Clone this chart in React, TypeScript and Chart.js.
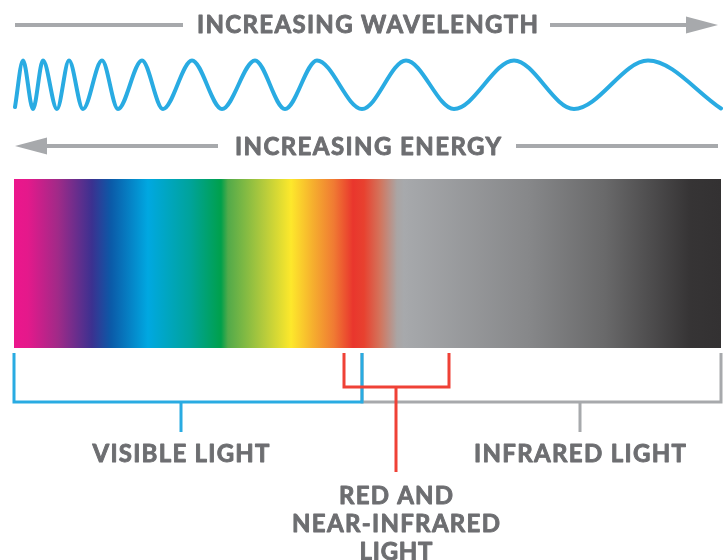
import React, { useEffect, useRef } from "react";
import { Chart, registerables } from "chart.js";

Chart.register(...registerables);

// ---------------- data ----------------
const headingWavelength = "INCREASING WAVELENGTH";
const headingEnergy = "INCREASING ENERGY";

// crests and troughs of the wave, along the horizontal position axis (0–723)
const waveExtremaX = [15, 23, 33, 43, 57, 69, 83, 102, 118, 142, 163, 192, 222, 255, 285, 317, 362, 406, 454, 514, 574, 648, 721];
// normalised amplitude (+1 crest, -1 trough)
const waveExtremaY = [-0.92, 1, -1, 1, -1, 1, -1, 1, -1, 1, -1, 1, -1, 1, -1, 1, -1, 1, -1, 1, -1, 1, -0.98];

// spectrum extent along the position axis
const spectrumFrom = 14;
const spectrumTo = 721;

// labelled bands
const bandNames = ["VISIBLE LIGHT", "RED AND|NEAR-INFRARED|LIGHT", "INFRARED LIGHT"];
const bandFrom = [14, 344, 362];
const bandTo = [362, 449, 721];
const bandMarker = [181, 396, 580];

// ---------------- styles / layout ----------------
const W = 723;
const H = 560;
const BLUE = "#29abe2";
const RED = "#ef4136";
const GRAY = "#a7a9ac";
const TEXT = "#6d6e71";
const FONT = 'Lato, "DejaVu Sans", sans-serif';
const FONT_WEIGHT = "bold";
const TEXT_EMBOLDEN = 0.9;

const WAVE_CREST_PX = 60.5;
const WAVE_TROUGH_PX = 109;
const waveRange = (2 * H) / (WAVE_TROUGH_PX - WAVE_CREST_PX);
const waveMax = 1 + (WAVE_CREST_PX * waveRange) / H;
const waveMin = waveMax - waveRange;

const BAR_TOP = 179;
const BAR_BOTTOM = 348;
const BRACKET_TOP = 353;
const bandColors = [BLUE, RED, GRAY];
const bandBracketY = [402, 387, 402];
const bandStemEnd = [432, 472, 432];
const bandOrder = [2, 1, 3];
const bandLabelY = [453.5, 495, 453.5];
const bandLabelWidths = [[177], [114, 208, 73], [212]];
const LINE_GAP = 28.3;

const SPECTRUM_STOPS: [number, string][] = [
  [14, "#ec168c"],
  [28, "#e4198b"],
  [58, "#a02a88"],
  [92, "#3b3190"],
  [111, "#0b5aa8"],
  [148, "#00a8e1"],
  [190, "#00a39b"],
  [221, "#00a04b"],
  [228, "#52aa4a"],
  [264, "#b5cb3c"],
  [291, "#fde82b"],
  [312, "#f6b12e"],
  [334, "#f07a33"],
  [353, "#e9362d"],
  [364, "#e8412f"],
  [380, "#d3745c"],
  [397, "#aaa5a4"],
  [404, "#a7a9ac"],
  [530, "#868789"],
  [605, "#69696a"],
  [690, "#363435"],
  [721, "#333132"],
];

const TOP_ARROW_Y = 25;
const ENERGY_ARROW_Y = 146;

function drawFitted(ctx: CanvasRenderingContext2D, text: string, cx: number, capMid: number, width: number, size = 24) {
  ctx.font = `${FONT_WEIGHT} ${size}px ${FONT}`;
  const anyCtx = ctx as any;
  if ("letterSpacing" in anyCtx) anyCtx.letterSpacing = "0px";
  const w = ctx.measureText(text).width;
  const baseline = capMid + (size * 0.7165) / 2;
  ctx.fillStyle = TEXT;
  ctx.strokeStyle = TEXT;
  ctx.lineWidth = TEXT_EMBOLDEN;
  ctx.lineJoin = "round";
  if ("letterSpacing" in anyCtx && text.length > 1) {
    const sp = (width - w) / (text.length - 1);
    anyCtx.letterSpacing = `${sp}px`;
    ctx.textAlign = "left";
    ctx.fillText(text, cx - width / 2, baseline);
    ctx.strokeText(text, cx - width / 2, baseline);
    anyCtx.letterSpacing = "0px";
  } else {
    ctx.save();
    ctx.translate(cx, baseline);
    ctx.scale(width / w, 1);
    ctx.textAlign = "center";
    ctx.fillText(text, 0, 0);
    ctx.strokeText(text, 0, 0);
    ctx.restore();
  }
}

const decorPlugin = {
  id: "decor",
  afterDatasetsDraw(chart: any) {
    const { ctx, scales } = chart;
    const px = (v: number) => scales.x.getPixelForValue(v);
    const py = (v: number) => scales.y.getPixelForValue(v);
    ctx.save();
    ctx.textBaseline = "alphabetic";
    // arrow heads
    ctx.fillStyle = GRAY;
    const head = (tip: number, base: number, y: number) => {
      ctx.beginPath();
      ctx.moveTo(px(tip), py(y));
      ctx.lineTo(px(base), py(y - 8.5));
      ctx.lineTo(px(base), py(y + 8.5));
      ctx.closePath();
      ctx.fill();
    };
    head(718, 686, TOP_ARROW_Y);
    head(15, 47, ENERGY_ARROW_Y);

    // headings
    drawFitted(ctx, headingWavelength, px(367.5), py(24.7), 341);
    drawFitted(ctx, headingEnergy, px(368), py(146), 266);

    // band labels
    bandNames.forEach((name, i) => {
      const lines = name.split("|");
      lines.forEach((ln, j) => {
        drawFitted(ctx, ln, px(bandMarker[i]), py(bandLabelY[i] + j * LINE_GAP), bandLabelWidths[i][j]);
      });
    });
    ctx.restore();
  },
};

export default function App() {
  const ref = useRef<HTMLCanvasElement | null>(null);

  useEffect(() => {
    if (!ref.current) return;

    const waveData = waveExtremaX.map((x, i) => ({ x, y: waveExtremaY[i] }));

    const bracketDatasets = bandNames.map((name, i) => ({
      label: name,
      data: [
        { x: bandFrom[i], y: BRACKET_TOP },
        { x: bandFrom[i], y: bandBracketY[i] },
        { x: bandTo[i], y: bandBracketY[i] },
        { x: bandTo[i], y: BRACKET_TOP },
        { x: bandMarker[i], y: null },
        { x: bandMarker[i], y: bandBracketY[i] },
        { x: bandMarker[i], y: bandStemEnd[i] },
      ],
      borderColor: bandColors[i],
      borderWidth: 3,
      pointRadius: 0,
      showLine: true,
      spanGaps: false,
      tension: 0,
      borderJoinStyle: "miter" as const,
      borderCapStyle: "butt" as const,
      order: bandOrder[i],
      yAxisID: "y",
    }));

    const arrowShaft = (label: string, a: number, b: number, y: number) => ({
      label,
      data: [
        { x: a, y },
        { x: b, y },
      ],
      borderColor: GRAY,
      borderWidth: 4,
      pointRadius: 0,
      showLine: true,
      order: 5,
      yAxisID: "y",
    });

    const chart = new Chart(ref.current, {
      type: "scatter",
      data: {
        datasets: [
          ...bracketDatasets,
          arrowShaft("wl-left", 15, 183, TOP_ARROW_Y),
          arrowShaft("wl-right", 550, 690, TOP_ARROW_Y),
          arrowShaft("en-left", 45, 218, ENERGY_ARROW_Y),
          arrowShaft("en-right", 516, 718, ENERGY_ARROW_Y),
          {
            label: "wave",
            data: waveData,
            borderColor: BLUE,
            borderWidth: 4,
            pointRadius: 0,
            showLine: true,
            cubicInterpolationMode: "monotone",
            borderCapStyle: "round",
            order: 6,
            yAxisID: "yWave",
          },
          {
            label: "spectrum",
            data: [
              { x: spectrumFrom, y: BAR_TOP },
              { x: spectrumTo, y: BAR_TOP },
            ],
            borderWidth: 0,
            borderColor: "rgba(0,0,0,0)",
            pointRadius: 0,
            showLine: true,
            fill: { value: BAR_BOTTOM },
            backgroundColor: (context: any) => {
              const c = context.chart;
              if (!c.chartArea) return "#888";
              const x0 = c.scales.x.getPixelForValue(spectrumFrom);
              const x1 = c.scales.x.getPixelForValue(spectrumTo);
              const g = c.ctx.createLinearGradient(x0, 0, x1, 0);
              SPECTRUM_STOPS.forEach(([x, col]) => {
                g.addColorStop(Math.min(1, Math.max(0, (x - spectrumFrom) / (spectrumTo - spectrumFrom))), col);
              });
              return g;
            },
            order: 10,
            yAxisID: "y",
          },
        ] as any,
      },
      options: {
        animation: false,
        responsive: false,
        events: [],
        layout: { padding: 0 },
        plugins: {
          legend: { display: false },
          tooltip: { enabled: false },
        },
        scales: {
          x: { type: "linear", min: 0, max: W, display: false },
          y: { type: "linear", min: 0, max: H, reverse: true, display: false },
          yWave: { type: "linear", min: waveMin, max: waveMax, display: false },
        },
      } as any,
      plugins: [decorPlugin],
    });

    return () => chart.destroy();
  }, []);

  return (
    <div style={{ position: "absolute", left: 0, top: 0, width: W, height: H, background: "#fff" }}>
      <canvas ref={ref} width={W} height={H} style={{ display: "block", width: W, height: H }} />
    </div>
  );
}
